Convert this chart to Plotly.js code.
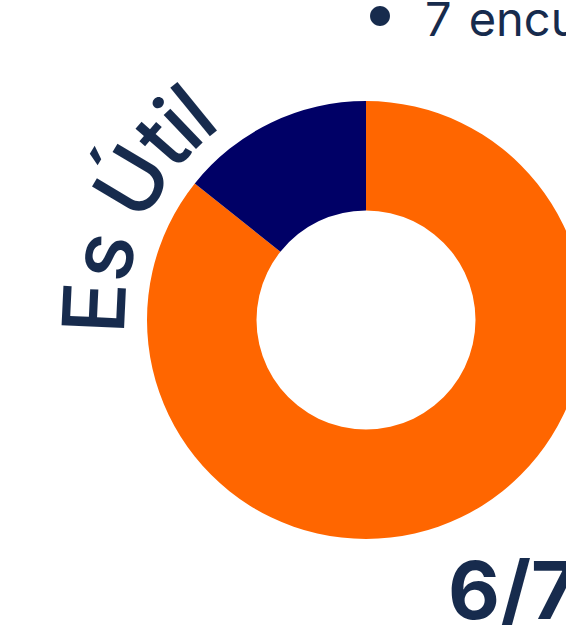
<!DOCTYPE html>
<html><head><meta charset="utf-8">
<script src="https://cdn.plot.ly/plotly-3.0.1.min.js"></script>
<style>html,body{margin:0;padding:0;overflow:hidden;background:#fff;width:566px;height:625px}#chart{width:700px;height:625px}</style>
</head><body><div id="chart"></div>
<script>
// Data
const labels = ['Es útil', 'No es útil'];
const values = [6, 1];
const colors = ['#FF6600', '#000066'];
const arcLabel = 'Es Útil';
const bulletText = '•';
const countText = '7\u2009\u2009encuestas';
const ratioText = '6/7';

// Layout constants (pixels)
const W = 700, H = 625;
const CX = 366, CY = 320, RAD = 219;
const TXT = '#172b4d';
const FAM = 'Inter, "Noto Sans", sans-serif';

const px = x => x / W;
const py = y => 1 - y / H;

// arc text layout
const F = 86, RB = 241, K = 0.36, START = 93.5, LS = -3;
const ctx = document.createElement('canvas').getContext('2d');
ctx.font = '500 ' + F + 'px Inter';
let acc = 0;
const annotations = [];
for (const ch of arcLabel) {
  const w = ctx.measureText(ch).width;
  const th = START - (acc + w / 2) / RB * 180 / Math.PI;
  acc += w + LS;
  if (ch === ' ') continue;
  const rc = RB + K * F;
  const t = th * Math.PI / 180;
  const x = CX - rc * Math.sin(t), y = CY - rc * Math.cos(t);
  annotations.push({text: ch, x: px(x), y: py(y), xref: 'paper', yref: 'paper',
    xanchor: 'center', yanchor: 'middle', showarrow: false, textangle: -th,
    font: {family: FAM, size: F, color: TXT, weight: 500}});
}
annotations.push({text: bulletText, x: px(380), y: py(12), xref: 'paper', yref: 'paper',
  xanchor: 'center', yanchor: 'middle', showarrow: false, font: {family: FAM, size: 64, color: TXT}});
annotations.push({text: countText, x: px(423), y: py(19), xref: 'paper', yref: 'paper',
  xanchor: 'left', yanchor: 'middle', showarrow: false, font: {family: FAM, size: 47, color: TXT}});
annotations.push({text: '<b>' + ratioText + '</b>', x: px(446), y: py(589), xref: 'paper', yref: 'paper',
  xanchor: 'left', yanchor: 'middle', showarrow: false, font: {family: FAM, size: 80, color: TXT}});

const trace = {
  type: 'pie', labels: labels, values: values, sort: false, direction: 'clockwise', rotation: 0,
  hole: 0.5, marker: {colors: colors, line: {width: 0}}, textinfo: 'none', hoverinfo: 'none',
  domain: {x: [px(CX - RAD), px(CX + RAD)], y: [py(CY + RAD), py(CY - RAD)]}
};
Plotly.newPlot('chart', [trace], {
  width: W, height: H, margin: {l: 0, r: 0, t: 0, b: 0}, showlegend: false,
  paper_bgcolor: '#fff', annotations: annotations
}, {displayModeBar: false, staticPlot: true});
</script></body></html>
